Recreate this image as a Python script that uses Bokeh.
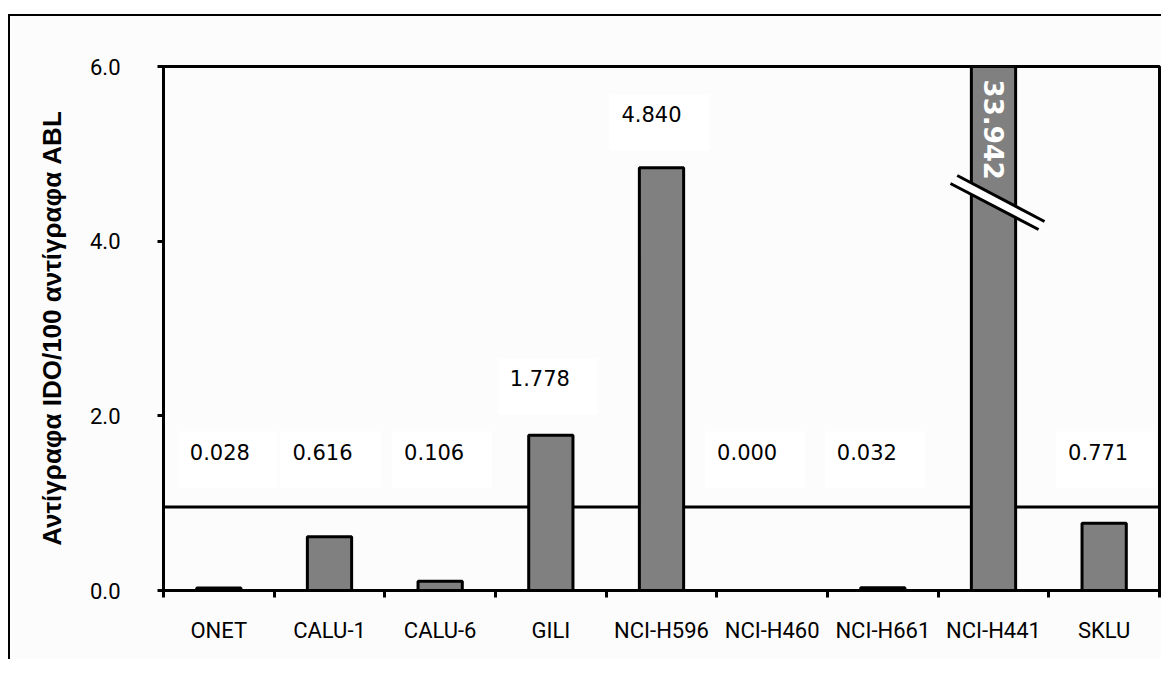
import numpy as np
from bokeh.plotting import figure
from bokeh.models import Range1d, FixedTicker, Label, Span, PrintfTickFormatter
from bokeh.embed import file_html
from bokeh.resources import INLINE

# ---- data ----
cell_lines = ["ONET", "CALU-1", "CALU-6", "GILI", "NCI-H596",
              "NCI-H460", "NCI-H661", "NCI-H441", "SKLU"]
ratios = [0.028, 0.616, 0.106, 1.778, 4.840, 0.000, 0.032, 33.942, 0.771]
y_ticks = [0, 2, 4, 6]
threshold = 0.955
y_max = 6.0
y_title = "Αντίγραφα IDO/100 αντίγραφα ABL"

# ---- label layout (positions only) ----
label_y = [1.5, 1.5, 1.5, 2.34, 5.36, 1.5, 1.5, None, 1.5]
label_dx = [9, 1, 2, -3, -2, -17, -8, 0, 2]

n = len(cell_lines)
xs = np.arange(1, n + 1)
shown = np.minimum(np.array(ratios), y_max)

p = figure(width=1153, height=645, output_backend="svg", toolbar_location=None,
           x_range=Range1d(0.5, n + 0.5), y_range=Range1d(0, y_max),
           min_border_left=153, min_border_top=50, min_border_right=4,
           min_border_bottom=71)
p.styles = {"border-top": "2px solid black", "border-left": "2px solid black",
            "margin-top": "14px", "margin-left": "8px"}
p.background_fill_color = "#fcfcfc"
p.border_fill_color = "#fcfcfc"
p.outline_line_color = "black"
p.outline_line_width = 3
p.xgrid.visible = False
p.ygrid.visible = False

# threshold line behind bars
p.add_layout(Span(location=threshold, dimension="width", line_color="black",
                  line_width=3, level="underlay"))

p.vbar(x=xs, top=shown, bottom=0, width=0.4, fill_color="#808080",
       line_color="black", line_width=3)

# axes
tick_font = "Roboto"
p.xaxis.ticker = FixedTicker(ticks=list(xs), minor_ticks=list(np.arange(0.5, n + 1, 1.0)))
p.xaxis.major_label_overrides = {int(x): c for x, c in zip(xs, cell_lines)}
p.xaxis.major_tick_line_color = None
p.xaxis.minor_tick_line_color = "black"
p.xaxis.minor_tick_line_width = 3
p.xaxis.minor_tick_out = 7
p.xaxis.minor_tick_in = 0
p.xaxis.axis_line_width = 3
p.xaxis.major_label_text_font = tick_font
p.xaxis.major_label_text_font_size = "22px"
p.xaxis.major_label_text_color = "black"
p.xaxis.major_label_standoff = 20

p.yaxis.ticker = FixedTicker(ticks=y_ticks)
p.yaxis.formatter = PrintfTickFormatter(format="%.1f")
p.yaxis.major_tick_line_width = 3
p.yaxis.major_tick_out = 6
p.yaxis.major_tick_in = 0
p.yaxis.minor_tick_line_color = None
p.yaxis.axis_line_width = 3
p.yaxis.major_label_text_font = tick_font
p.yaxis.major_label_text_font_size = "22px"
p.yaxis.major_label_text_color = "black"
p.yaxis.major_label_standoff = 37
p.yaxis.axis_label = y_title
p.yaxis.axis_label_text_font = "Liberation Sans"
p.yaxis.axis_label_text_font_style = "bold"
p.yaxis.axis_label_text_font_size = "26px"
p.yaxis.axis_label_text_color = "black"
p.yaxis.axis_label_standoff = 20

# value labels
for i, (x, v, ly, dx) in enumerate(zip(xs, ratios, label_y, label_dx)):
    if ly is None:
        continue
    p.add_layout(Label(x=x, y=ly, x_offset=dx, text=f"{v:.3f}",
                       text_font="DejaVu Sans", text_font_size="21px",
                       text_color="black", text_align="center",
                       text_baseline="middle",
                       background_fill_color="white",
                       padding=(12, 28, 12, 28)))

# broken bar: value written inside the bar and break marks
ib = int(np.argmax(ratios))
bx = xs[ib]
p.add_layout(Label(x=bx, y=5.85, text=f"{ratios[ib]:.3f}", angle=-np.pi / 2,
                   text_font="DejaVu Sans", text_font_style="bold",
                   text_font_size="26px", text_color="white",
                   text_align="left", text_baseline="middle"))
up_x = bx + np.array([-0.328, 0.461])
up_y = np.array([4.752, 4.225])
lo_x = bx + np.array([-0.389, 0.407])
lo_y = np.array([4.660, 4.134])
p.patch(x=list(up_x) + list(lo_x[::-1]), y=list(up_y) + list(lo_y[::-1]),
        fill_color="white", line_color=None)
p.line(x=up_x, y=up_y, line_color="black", line_width=3)
p.line(x=lo_x, y=lo_y, line_color="black", line_width=3)

open("out.html", "w").write(file_html(p, INLINE))
